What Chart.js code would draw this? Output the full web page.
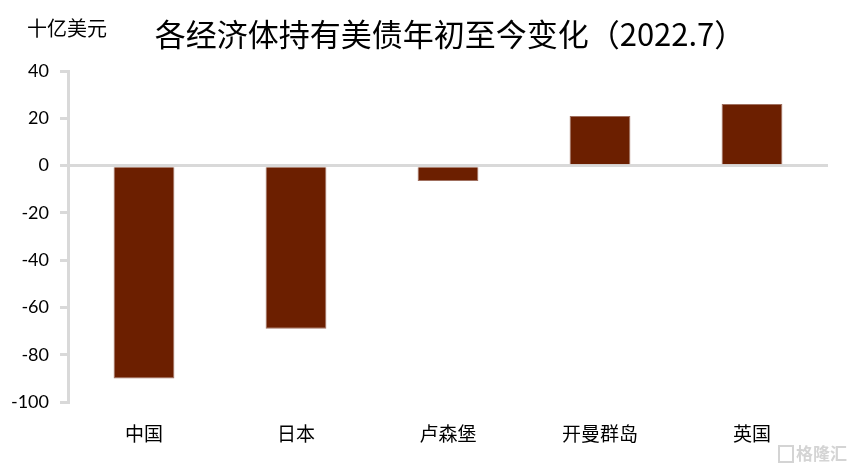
<!DOCTYPE html>
<html>
<head>
<meta charset="utf-8">
<script src="https://cdn.jsdelivr.net/npm/chart.js@4"></script>
<style>
   html, body { margin: 0; padding: 0; background: #fff; }
   #wrap { width: 852px; height: 471px; }
</style>
</head>
<body>
<div id="wrap"><canvas id="canvas" width="852" height="471"></canvas></div>
<script>
var categories = ['中国', '日本', '卢森堡', '开曼群岛', '英国'];
var changes = [-90, -69, -6.5, 21, 26];
var yTicks = [40, 20, 0, -20, -40, -60, -80, -100];

var chartTitle = '各经济体持有美债年初至今变化（2022.7）';
var unitLabel = '十亿美元';

var cjk = '"Noto Sans CJK SC", "Noto Sans", sans-serif';

// title, unit and watermark drawn as text on the canvas
var textPlugin = {
   id: 'texts',
   afterDraw: function (chart) {
      var ctx = chart.ctx;
      ctx.save();
      ctx.fillStyle = '#000';
      ctx.textBaseline = 'middle';
      ctx.font = '31px ' + cjk;
      ctx.textAlign = 'center';
      ctx.fillText(chartTitle, 450, 34);
      ctx.font = '20px ' + cjk;
      ctx.textAlign = 'left';
      ctx.fillText(unitLabel, 27, 28);
      ctx.fillStyle = '#d4d4d4';
      ctx.font = 'bold 17px ' + cjk;
      ctx.fillText('格隆汇', 796, 454);
      ctx.strokeStyle = '#d4d4d4';
      ctx.lineWidth = 2;
      ctx.strokeRect(779, 446, 14, 16);
      ctx.restore();
   }
};

window.onload = function () {
   var ctx = document.getElementById('canvas').getContext('2d');
   window.myBar = new Chart(ctx, {
      type: 'bar',
      data: {
         labels: categories,
         datasets: [{
            label: unitLabel,
            data: changes,
            backgroundColor: '#6C1F00',
            borderColor: '#a07060',
            borderWidth: 1,
            categoryPercentage: 1,
            barPercentage: 0.4
         }]
      },
      options: {
         responsive: false,
         animation: false,
         layout: {
            padding: { left: 0, right: 24, top: 71, bottom: 14 }
         },
         plugins: {
            legend: { display: false },
            title: { display: false },
            tooltip: { enabled: false }
         },
         scales: {
            x: {
               grid: { display: false },
               border: { display: false },
               ticks: {
                  color: '#000',
                  padding: 12,
                  font: { family: cjk, size: 19 }
               }
            },
            y: {
               min: -100,
               max: 40,
               afterBuildTicks: function (scale) {
                  scale.ticks = yTicks.map(function (v) { return { value: v }; });
               },
               afterFit: function (scale) {
                  scale.width = 68;
               },
               border: { color: '#d9d9d9', width: 3 },
               grid: {
                  color: function (c) { return c.tick && c.tick.value === 0 ? '#d9d9d9' : 'rgba(0,0,0,0)'; },
                  tickColor: '#d9d9d9',
                  tickLength: 8,
                  lineWidth: 3
               },
               ticks: {
                  color: '#000',
                  padding: 11,
                  font: { family: 'Lato, "Liberation Sans", sans-serif', size: 18 }
               }
            }
         }
      },
      plugins: [textPlugin]
   });
};
</script>
</body>
</html>
